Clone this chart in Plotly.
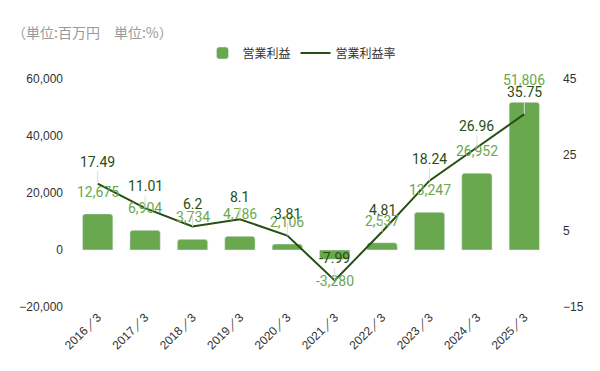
import plotly.graph_objects as go

categories = ["2016／3", "2017／3", "2018／3", "2019／3", "2020／3",
              "2021／3", "2022／3", "2023／3", "2024／3", "2025／3"]
operating_profit = [12675, 6904, 3734, 4786, 2106, -3280, 2537, 13247, 26952, 51806]
operating_margin = [17.49, 11.01, 6.2, 8.1, 3.81, -7.99, 4.81, 18.24, 26.96, 35.75]
left_ticks = [-20000, 0, 20000, 40000, 60000]
right_ticks = [-15, 5, 25, 45]

BAR_C = "#6aa84f"
LINE_C = "#274e13"
TICK_FONT = dict(family="Liberation Sans, Arial, sans-serif", size=12, color="#333333")
LABEL_FONT = "Roboto, sans-serif"

# the page body has an 8px margin, so the figure is 8px smaller than the window
W, H = 592, 363

fig = go.Figure()
fig.add_trace(go.Bar(
    x=categories, y=operating_profit, name="営業利益",
    marker=dict(color=BAR_C, cornerradius=3), yaxis="y",
))
fig.add_trace(go.Scatter(
    x=categories, y=operating_margin, name="営業利益率", mode="lines",
    line=dict(color=LINE_C, width=2), yaxis="y2",
))

annotations = []
for c, v in zip(categories, operating_profit):
    annotations.append(dict(
        x=c, y=v, xref="x", yref="y", text=f"{v:,}", showarrow=False,
        yshift=22 if v >= 0 else -22,
        font=dict(family=LABEL_FONT, size=14, color=BAR_C),
    ))
for c, v in zip(categories, operating_margin):
    annotations.append(dict(
        x=c, y=v, xref="x", yref="y2", text=f"{v:g}", showarrow=True,
        ax=0, ay=-22, arrowhead=0, arrowwidth=1, arrowcolor="#dddddd",
        standoff=0,
        font=dict(family=LABEL_FONT, size=14, color=LINE_C),
    ))

fig.update_layout(
    width=W, height=H,
    margin=dict(l=66, r=52, t=71, b=64, autoexpand=False),
    paper_bgcolor="white", plot_bgcolor="white",
    bargap=0.36,
    showlegend=True,
    legend=dict(orientation="h", xref="container", yref="container",
                x=294 / W, xanchor="center", y=1 - 45 / H, yanchor="middle",
                font=dict(family="Noto Sans CJK JP, sans-serif", size=12, color="#333333"),
                itemwidth=30, traceorder="normal"),
    title=dict(text="（単位:百万円　単位:%）", xref="container", yref="container",
               x=4 / W, xanchor="left", y=1 - 25 / H, yanchor="middle",
               font=dict(family="Noto Sans CJK JP, sans-serif", size=14, color="#999999")),
    xaxis=dict(tickangle=-45, tickfont=TICK_FONT, showgrid=False, showline=False,
               zeroline=False, ticks="", automargin=False),
    yaxis=dict(range=[-20000, 60000], tickvals=left_ticks, tickformat=",",
               tickfont=TICK_FONT, showgrid=False, zeroline=False, showline=False,
               ticklabelstandoff=10, automargin=False),
    yaxis2=dict(range=[-15, 45], tickvals=right_ticks, overlaying="y", side="right",
                tickfont=TICK_FONT, showgrid=False, zeroline=False, showline=False,
                ticklabelstandoff=14, automargin=False),
    annotations=annotations,
)

fig.write_html("out.html")
